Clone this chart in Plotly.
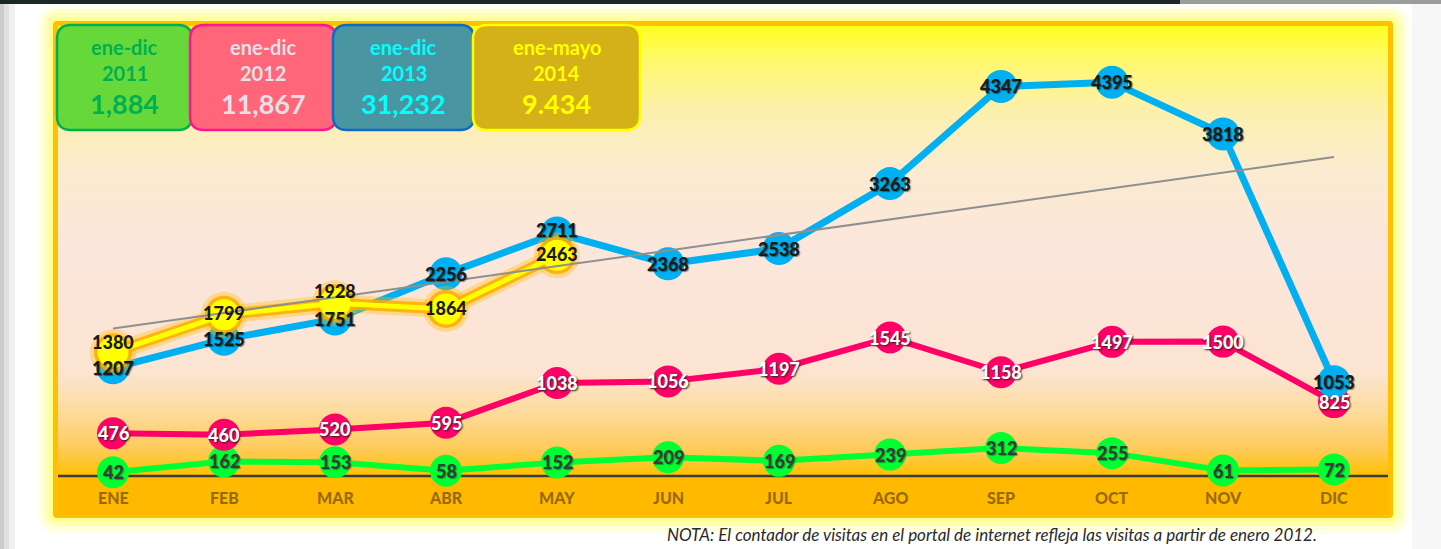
import numpy as np
import plotly.graph_objects as go

W, H = 1441, 549

# ---------------- data ----------------
months = ["ENE", "FEB", "MAR", "ABR", "MAY", "JUN", "JUL", "AGO", "SEP", "OCT", "NOV", "DIC"]
v2011 = [42, 162, 153, 58, 152, 209, 169, 239, 312, 255, 61, 72]
v2012 = [476, 460, 520, 595, 1038, 1056, 1197, 1545, 1158, 1497, 1500, 825]
v2013 = [1207, 1525, 1751, 2256, 2711, 2368, 2538, 3263, 4347, 4395, 3818, 1053]
v2014 = [1380, 1799, 1928, 1864, 2463]

box_periods = ["ene-dic", "ene-dic", "ene-dic", "ene-mayo"]
box_years = ["2011", "2012", "2013", "2014"]
box_totals = ["1,884", "11,867", "31,232", "9.434"]

note_text = "NOTA: El contador de visitas en el portal de internet refleja las visitas a partir de enero 2012."

# ---------------- layout geometry (pixels) ----------------
PLOT_L, PLOT_R, PLOT_T, PLOT_B = 58, 1388, 26, 515
BASE_PX = 476          # pixel row of value 0
UPP = 11.16            # data units per pixel
X_FIRST_PX, X_STEP_PX = 113, 111.0


def yv(py):
    return (BASE_PX - py) * UPP


def px(x):
    return x / W


def py_(y):
    return 1 - y / H


x_rng = [-(X_FIRST_PX - PLOT_L) / X_STEP_PX, (PLOT_R - X_FIRST_PX) / X_STEP_PX]
y_rng = [yv(PLOT_B), yv(PLOT_T)]

idx = list(range(len(months)))

FONT = "Lato"

fig = go.Figure()

# ---------------- background gradient (heatmap) ----------------
stops_px = [PLOT_B, BASE_PX + 1, BASE_PX, 450, 412, 372, 250, 170, 112, 62, PLOT_T]
stops_col = ["#FFBA00", "#FFBA00", "#FFC000", "#FECB58", "#FDDB9C", "#FCE4D2",
             "#FBE6DC", "#FBEBD0", "#FCF0AE", "#FEF86E", "#FFFF22"]
stop_vals = [yv(p) for p in stops_px]
lo, hi = y_rng
cscale = [[(v - lo) / (hi - lo), c] for v, c in zip(stop_vals, stops_col)]
cscale[0][0] = 0.0
cscale[-1][0] = 1.0
ys = np.linspace(lo, hi, 400)
fig.add_trace(go.Heatmap(
    x=[x_rng[0] - 1, x_rng[1] + 1], y=ys, z=np.column_stack([ys, ys]),
    colorscale=cscale, zmin=lo, zmax=hi, showscale=False, hoverinfo="skip",
))

# baseline
fig.add_trace(go.Scatter(x=x_rng, y=[0, 0], mode="lines",
                         line=dict(color="#3C3C3C", width=2.5), hoverinfo="skip"))

# ---------------- series ----------------
def series(vals, color, lw, ms):
    fig.add_trace(go.Scatter(
        x=idx[:len(vals)], y=vals, mode="lines+markers",
        line=dict(color=color, width=lw),
        marker=dict(color=color, size=ms, line=dict(width=0)),
        hoverinfo="skip"))


series(v2011, "#00FF33", 6, 32)
series(v2012, "#FF0066", 6, 32)
series(v2013, "#00B0F0", 7, 33)

# glow for 2014
x14 = idx[:len(v2014)]
fig.add_trace(go.Scatter(x=x14, y=v2014, mode="lines+markers",
                         line=dict(color="rgba(255,190,0,0.35)", width=18),
                         marker=dict(color="rgba(255,190,0,0.35)", size=46),
                         hoverinfo="skip"))
fig.add_trace(go.Scatter(x=x14, y=v2014, mode="lines+markers",
                         line=dict(color="rgba(255,172,0,0.85)", width=11),
                         marker=dict(color="rgba(255,172,0,0.85)", size=38),
                         hoverinfo="skip"))
series(v2014, "#FFFF00", 5, 31)

# trend line (linear fit of 2013)
coef = np.polyfit(idx, v2013, 1)
tx = [idx[0], idx[-1]]
fig.add_trace(go.Scatter(x=tx, y=list(np.polyval(coef, tx)), mode="lines",
                         line=dict(color="#8F8F8F", width=2), hoverinfo="skip"))

# ---------------- labels ----------------
ann = []


def labels(vals, color, shadow, shifts=None):
    for i, v in enumerate(vals):
        ann.append(dict(x=i, y=v, xref="x", yref="y", text=str(v), showarrow=False,
                        xanchor="center", yanchor="middle",
                        yshift=(shifts[i] if shifts else 0),
                        font=dict(family=FONT, size=18, color=color, weight=900,
                                  shadow=shadow)))


labels(v2011, "#3A3A3A", "1px 1px 1px rgba(0,0,0,0.35)")
labels(v2012, "#FFFFFF", "1px 1px 2px #222222")
labels(v2013, "#1A1A1A", "1px 1px 1px rgba(0,0,0,0.45)",
       shifts=[0, 0, 0, 0, 3, 0, 0, 0, 0, 0, 0, 0])
labels(v2014, "#1A1A1A", "none", shifts=[10, 2, 12, 1, 1])

for i, m in enumerate(months):
    ann.append(dict(x=i, y=yv(497), xref="x", yref="y", text=m, showarrow=False,
                    xanchor="center", yanchor="middle",
                    font=dict(family=FONT, size=16, color="#9A6A00", weight=900)))

ann.append(dict(x=px(992), y=py_(534), xref="paper", yref="paper", text=note_text,
                showarrow=False, xanchor="center", yanchor="middle",
                font=dict(family=FONT, size=17, color="#2A2A2A", style="italic")))

# ---------------- shapes ----------------
shapes = []


def rrect(x0, y0, x1, y1, r, fill, line_color=None, lw=0, layer="below"):
    X = lambda v: px(v)
    Y = lambda v: py_(v)
    p = (f"M {X(x0 + r)},{Y(y0)} L {X(x1 - r)},{Y(y0)} Q {X(x1)},{Y(y0)} {X(x1)},{Y(y0 + r)} "
         f"L {X(x1)},{Y(y1 - r)} Q {X(x1)},{Y(y1)} {X(x1 - r)},{Y(y1)} "
         f"L {X(x0 + r)},{Y(y1)} Q {X(x0)},{Y(y1)} {X(x0)},{Y(y1 - r)} "
         f"L {X(x0)},{Y(y0 + r)} Q {X(x0)},{Y(y0)} {X(x0 + r)},{Y(y0)} Z")
    shapes.append(dict(type="path", path=p, xref="paper", yref="paper",
                       fillcolor=fill, layer=layer,
                       line=dict(color=line_color or fill, width=lw)))


def rect(x0, y0, x1, y1, fill, layer="below"):
    shapes.append(dict(type="rect", xref="paper", yref="paper",
                       x0=px(x0), x1=px(x1), y0=py_(y1), y1=py_(y0),
                       fillcolor=fill, line=dict(width=0), layer=layer))


# page decorations
rect(0, 0, 15, H, "#F0F0F0")
rect(0, 0, 9, H, "#E0E0E0")
rect(0, 0, 4, H, "#CCCCCC")
rect(1412, 0, W, H, "#F7F7F7")
rect(0, 0, 1180, 4, "#1C2826")
rect(1180, 0, W, 4, "#9A9E98")

# glow + frame
FL, FT, FR, FB = 53, 21, 1393, 518
for off, col in [(16, "#FFFFEC"), (12, "#FFFFD2"), (8, "#FFFFB4"), (4, "#FFFF96")]:
    rrect(FL - off, FT - off, FR + off, FB + off, 6 + off, col)
rrect(FL, FT, FR, FB, 4, "#FFC000")

# summary boxes
box_geo = [(57, 25, 192, 130), (190, 25, 336, 130), (333, 25, 474, 130), (473, 25, 640, 130)]
box_fill = ["#66D83A", "#FF6679", "#4A95A2", "#D4B118"]
box_line = ["#00B050", "#FF1493", "#0A6CC4", "#FFFF00"]
box_text = ["#00B050", "#E8E0E6", "#00FFFF", "#FFFF00"]
for (x0, y0, x1, y1), f, lc, tc, per, yr, tot in zip(box_geo, box_fill, box_line, box_text,
                                                    box_periods, box_years, box_totals):
    rrect(x0, y0, x1, y1, 14, f, lc, 2.5, layer="above")
    cx = px((x0 + x1) / 2)
    for txt, yy, fs in [(per, 47, 20), (yr, 73, 20), (tot, 103, 27)]:
        ann.append(dict(x=cx, y=py_(yy), xref="paper", yref="paper", text=txt,
                        showarrow=False, xanchor="center", yanchor="middle",
                        font=dict(family=FONT, size=fs, color=tc, weight="bold")))

fig.update_layout(
    width=W, height=H, margin=dict(l=0, r=0, t=0, b=0),
    paper_bgcolor="#FFFFFF", plot_bgcolor="rgba(0,0,0,0)",
    showlegend=False, hovermode=False,
    xaxis=dict(domain=[px(PLOT_L), px(PLOT_R)], range=x_rng, visible=False, fixedrange=True),
    yaxis=dict(domain=[py_(PLOT_B), py_(PLOT_T)], range=y_rng, visible=False, fixedrange=True),
    shapes=shapes, annotations=ann,
)

fig.write_html("out.html")
